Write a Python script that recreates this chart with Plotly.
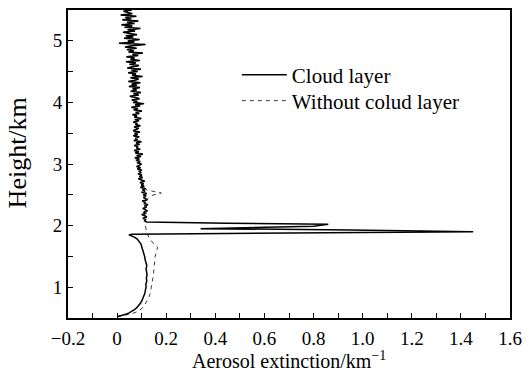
import plotly.graph_objects as go

# ---- data ----
# Cloud-layer profile below the cloud (height km, extinction km^-1)
solid_low_h = [0.52, 0.53, 0.54, 0.56, 0.58, 0.60, 0.63, 0.66, 0.70, 0.74, 0.78, 0.82, 0.86, 0.90,
               0.95, 1.00, 1.05, 1.10, 1.15, 1.20, 1.25, 1.30, 1.35, 1.40, 1.45, 1.50, 1.55, 1.60,
               1.65, 1.70, 1.74, 1.78, 1.81, 1.83, 1.85]
solid_low_x = [0.000, 0.012, 0.022, 0.035, 0.047, 0.058, 0.069, 0.078, 0.088, 0.095, 0.101, 0.106,
               0.109, 0.113, 0.115, 0.118, 0.117, 0.121, 0.119, 0.122, 0.120, 0.118, 0.121, 0.116,
               0.114, 0.112, 0.109, 0.106, 0.101, 0.097, 0.090, 0.082, 0.072, 0.058, 0.048]

# Cloud spike
cloud_h = [1.86, 1.90, 1.93, 1.95, 1.99, 2.02, 2.04, 2.06]
cloud_x = [0.065, 1.45, 0.95, 0.34, 0.80, 0.86, 0.45, 0.12]

# Profile above the cloud, every 0.02 km from 2.08 km
upper_x = [
    0.110, 0.118, 0.105, 0.121, 0.112, 0.100, 0.119, 0.108, 0.124, 0.113,
    0.104, 0.120, 0.111, 0.126, 0.109, 0.117, 0.102, 0.122, 0.113, 0.107,
    0.118, 0.106, 0.121, 0.099, 0.114, 0.103, 0.117, 0.095, 0.110, 0.098,
    0.108, 0.093, 0.112, 0.097, 0.087, 0.104, 0.091, 0.101, 0.085, 0.098,
    0.088, 0.101, 0.082, 0.095, 0.079, 0.092, 0.099, 0.081, 0.094, 0.077,
    0.090, 0.072, 0.097, 0.080, 0.105, 0.074, 0.088, 0.069, 0.094, 0.079,
    0.086, 0.070, 0.092, 0.077, 0.099, 0.068, 0.083, 0.074, 0.090, 0.066,
    0.084, 0.071, 0.093, 0.065, 0.080, 0.088, 0.069, 0.095, 0.074, 0.082,
    0.066, 0.089, 0.072, 0.098, 0.070, 0.081, 0.063, 0.090, 0.076, 0.101,
    0.068, 0.085, 0.058, 0.094, 0.073, 0.110, 0.065, 0.082, 0.060, 0.091,
    0.074, 0.052, 0.088, 0.067, 0.097, 0.056, 0.079, 0.063, 0.093, 0.048,
    0.081, 0.059, 0.095, 0.046, 0.072, 0.088, 0.054, 0.103, 0.061, 0.077,
    0.045, 0.083, 0.058, 0.097, 0.041, 0.070, 0.089, 0.050, 0.076, 0.036,
    0.092, 0.055, 0.071, 0.038, 0.086, 0.063, 0.105, 0.047, 0.068, 0.040,
    0.079, 0.032, 0.061, 0.115, 0.008, 0.070, 0.044, 0.092, 0.028, 0.066,
    0.035, 0.081, 0.050, 0.024, 0.073, 0.043, 0.095, 0.030, 0.062, 0.018,
    0.071, 0.040, 0.086, 0.022, 0.057, 0.034, 0.078, 0.015, 0.062, 0.045,
    0.026, 0.060,
]
upper_h = [round(2.08 + 0.02 * i, 2) for i in range(len(upper_x))]

# Profile without cloud layer, up to 2.58 km (then joins the common profile)
clear_low_h = [0.52, 0.54, 0.57, 0.60, 0.65, 0.70, 0.80, 0.90, 1.00, 1.10, 1.20, 1.30, 1.40, 1.50,
               1.60, 1.65, 1.70, 1.75, 1.80, 1.85, 1.90, 2.00, 2.06, 2.08, 2.14, 2.20, 2.26, 2.32,
               2.38, 2.44, 2.48, 2.50, 2.52, 2.53, 2.54, 2.56, 2.58]
clear_low_x = [0.000, 0.030, 0.060, 0.080, 0.100, 0.110, 0.125, 0.135, 0.140, 0.145, 0.148, 0.150,
               0.152, 0.155, 0.162, 0.165, 0.150, 0.140, 0.130, 0.125, 0.120, 0.115, 0.120, 0.112,
               0.118, 0.108, 0.116, 0.121, 0.118, 0.125, 0.135, 0.150, 0.175, 0.180, 0.165, 0.140,
               0.120]
join_index = 26  # upper_h[26] == 2.60

x_ticks = [-0.2, 0, 0.2, 0.4, 0.6, 0.8, 1.0, 1.2, 1.4, 1.6]
x_tick_text = ["\u22120.2", "0", "0.2", "0.4", "0.6", "0.8", "1.0", "1.2", "1.4", "1.6"]
y_ticks = [1, 2, 3, 4, 5]

solid_x = solid_low_x + cloud_x + upper_x
solid_h = solid_low_h + cloud_h + upper_h
clear_x = clear_low_x + upper_x[join_index:]
clear_h = clear_low_h + upper_h[join_index:]

FONT = "Liberation Serif"

fig = go.Figure()
fig.add_trace(go.Scatter(
    x=clear_x, y=clear_h, mode="lines", name="Without colud layer",
    line=dict(color="#3a3a3a", width=1, dash="4px,4px"), legend="legend2",
))
fig.add_trace(go.Scatter(
    x=solid_x, y=solid_h, mode="lines", name="Cloud layer",
    line=dict(color="black", width=1.5), legend="legend",
))

axis_common = dict(
    showline=True, linecolor="black", linewidth=2, mirror=True,
    ticks="inside", ticklen=5, tickwidth=1, tickcolor="black",
    showgrid=False, zeroline=False, automargin=False,
    tickfont=dict(family=FONT, size=19, color="black"),
)

legend_common = dict(
    xanchor="left", yanchor="middle",
    bgcolor="rgba(0,0,0,0)", borderwidth=0,
    font=dict(family=FONT, size=21, color="black"),
    itemwidth=45,
)

fig.update_layout(
    width=531, height=374,
    margin=dict(l=68, r=21, t=10, b=56),
    plot_bgcolor="white", paper_bgcolor="white",
    font=dict(family=FONT, color="black"),
    showlegend=True,
    legend=dict(x=0.382, y=(318 - 75) / 308, **legend_common),
    legend2=dict(x=0.382, y=(318 - 101) / 308, **legend_common),
    xaxis=dict(
        range=[-0.2, 1.6], tickvals=x_ticks, ticktext=x_tick_text,
        minor=dict(ticks="inside", dtick=0.1, ticklen=5, tickcolor="black", tickwidth=1),
        title=dict(text=""),
        ticklabelstandoff=2,
        **axis_common,
    ),
    yaxis=dict(
        range=[0.5, 5.5], tickvals=y_ticks,
        minor=dict(ticks="inside", dtick=0.5, ticklen=5, tickcolor="black", tickwidth=1),
        title=dict(text=""),
        ticklabelstandoff=0,
        **axis_common,
    ),
    annotations=[
        dict(
            text="Height/km", textangle=-90, xref="paper", yref="paper",
            x=-0.115, y=0.535, xanchor="center", yanchor="middle", showarrow=False,
            font=dict(family=FONT, size=26, color="black"),
        ),
        dict(
            text="Aerosol extinction/km<sup>\u22121</sup>", xref="paper", yref="paper",
            x=0.5, y=(318 - 373) / 308, xanchor="center", yanchor="bottom", showarrow=False,
            font=dict(family=FONT, size=20, color="black"), borderpad=0,
        ),
    ],
)

fig.write_html(
    "out.html",
    config={"displayModeBar": False},
    post_script="document.body.style.margin='0';document.body.style.padding='0';",
)
